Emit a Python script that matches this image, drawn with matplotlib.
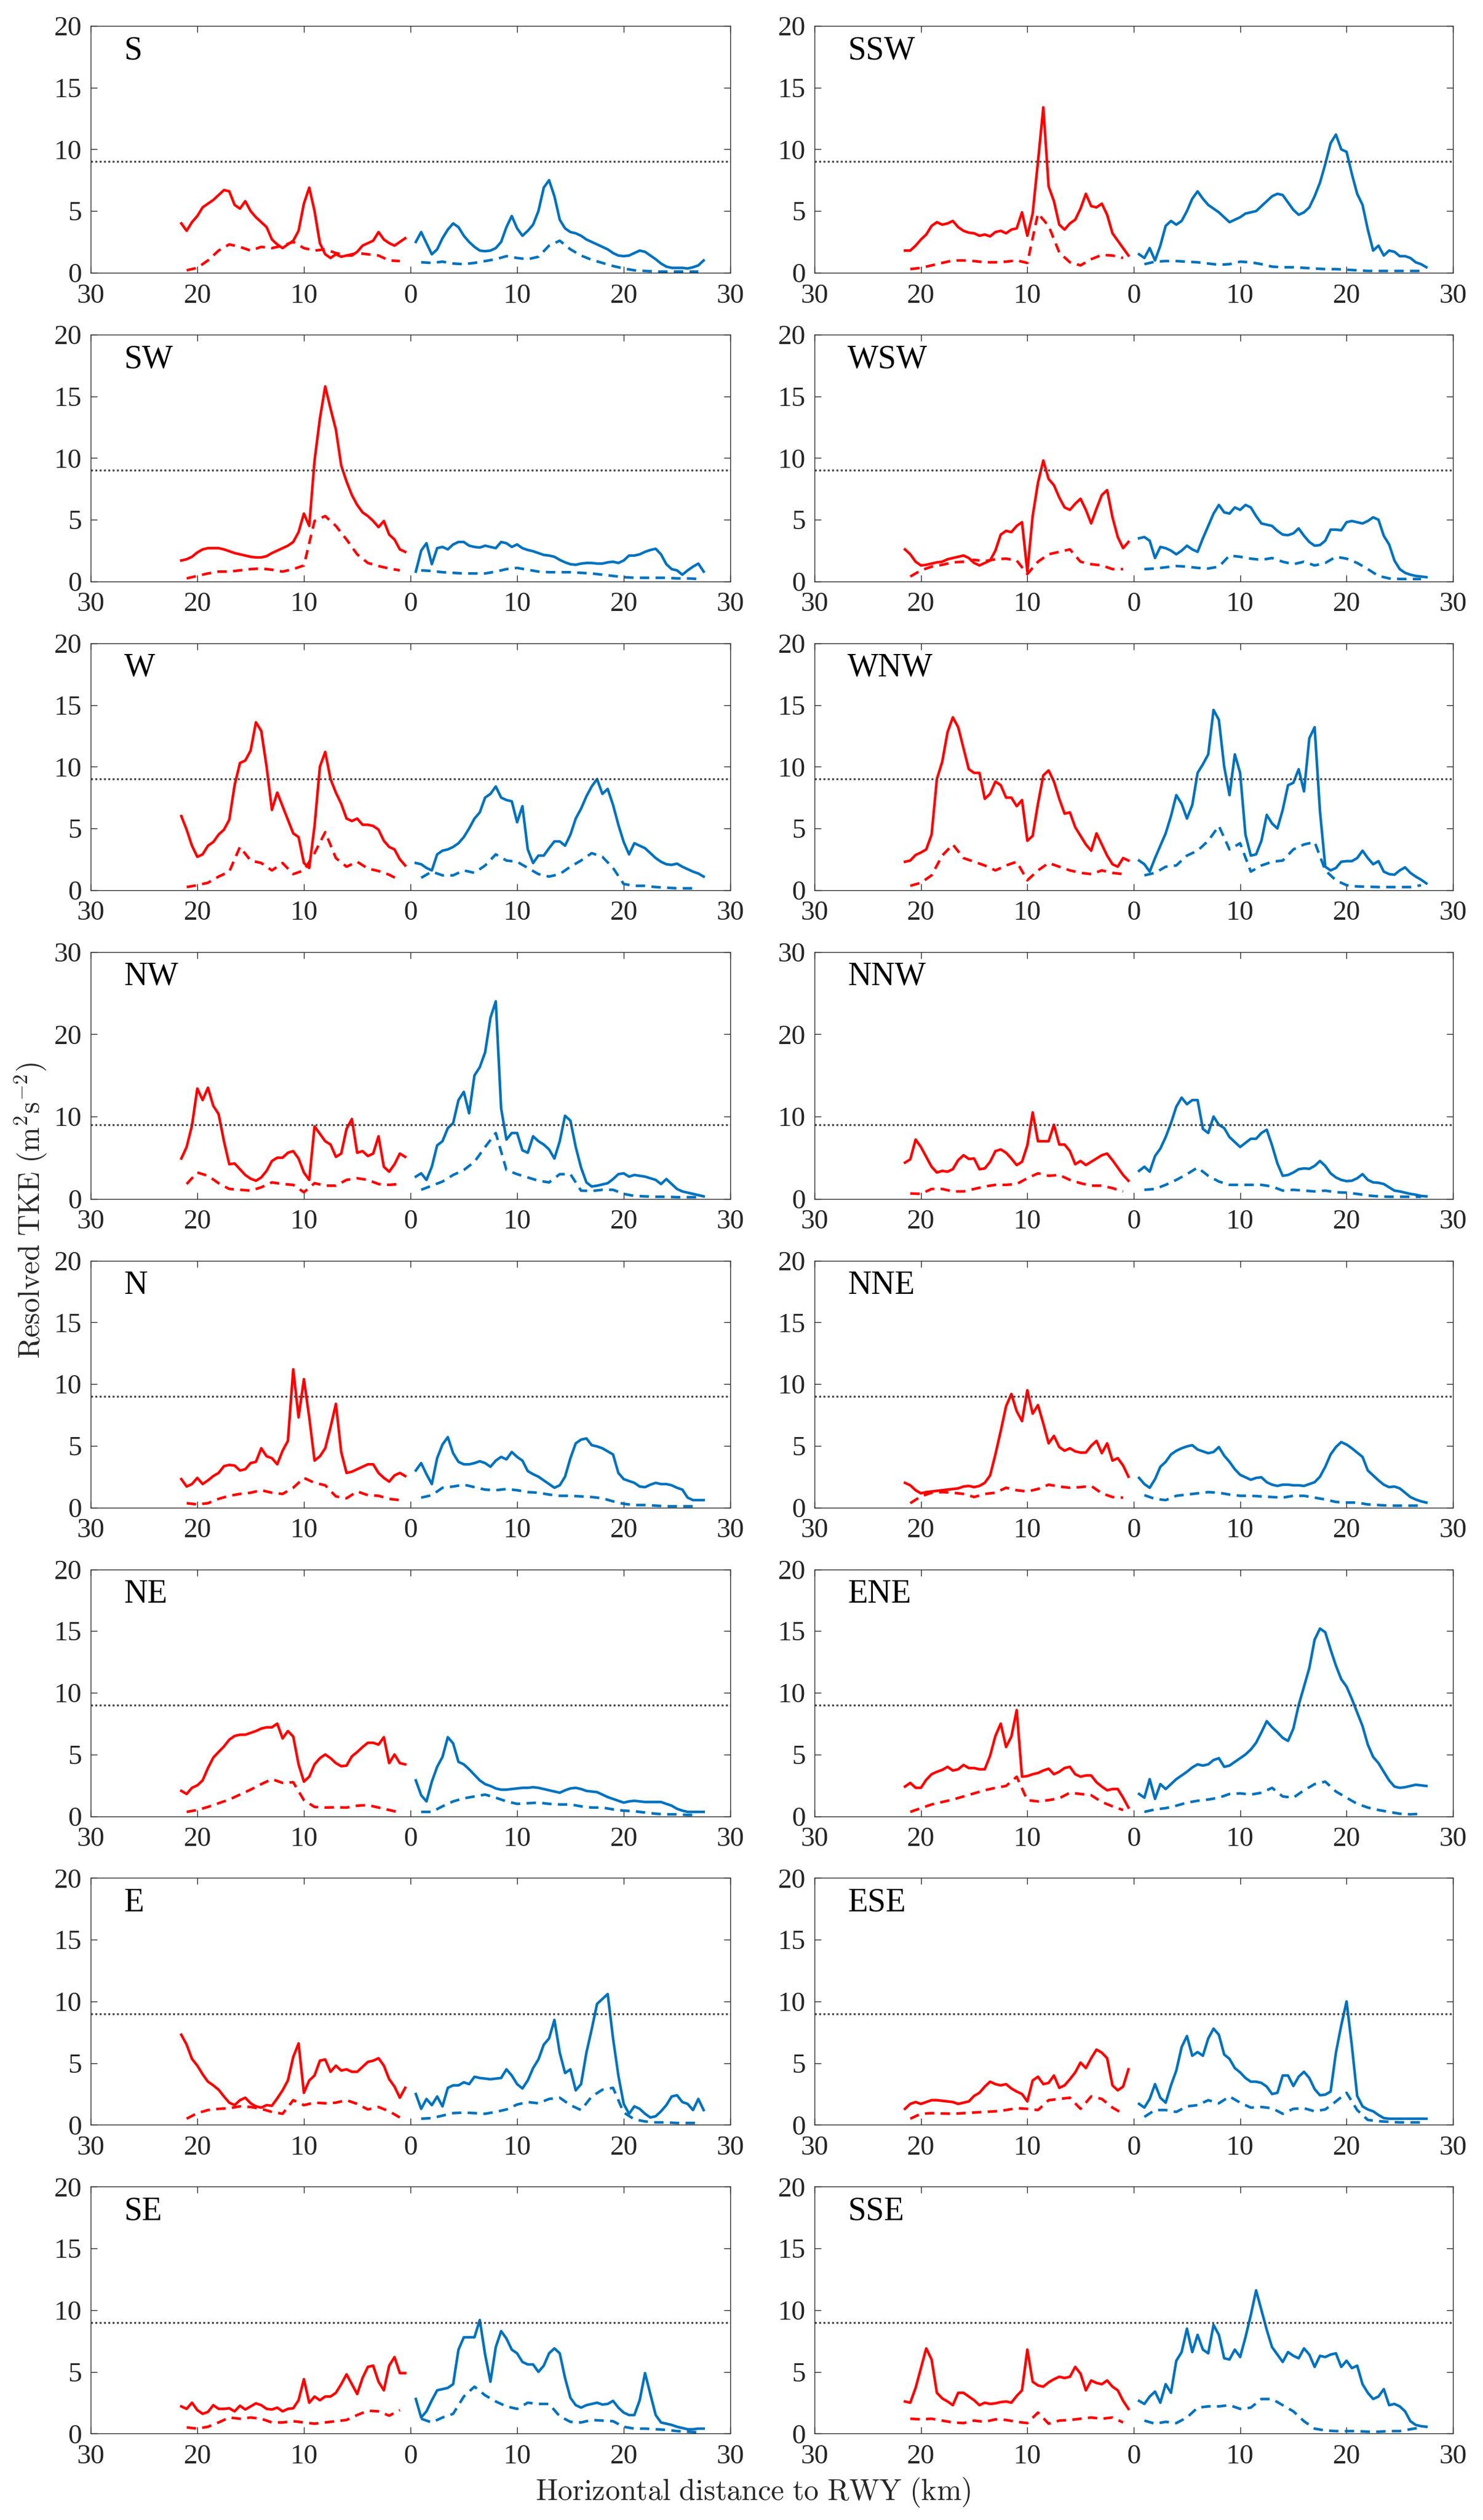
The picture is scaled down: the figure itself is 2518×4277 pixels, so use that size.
import numpy as np
import matplotlib
matplotlib.use('Agg')
import matplotlib.pyplot as plt

# sampling distances (km); red side is plotted at negative x
x_red = np.arange(-21.5, -0.25, 0.5)
x_blue = np.arange(0.5, 27.75, 0.5)
x_red_d = np.arange(-21, 0)
x_blue_d = np.arange(1, 28)

# ---- S ----
s_red = [4.0, 3.4, 4.1, 4.6, 5.3, 5.6, 5.9, 6.3, 6.7, 6.6, 5.5, 5.2, 5.8, 5.0, 4.5, 4.1, 3.7, 2.7, 2.3, 2.0, 2.3, 2.6, 3.4, 5.6, 6.9, 5.0, 2.4, 1.5, 1.2, 1.5, 1.3, 1.4, 1.4, 1.7, 2.2, 2.4, 2.6, 3.3, 2.7, 2.4, 2.2, 2.5, 2.8]
s_red_dash = [0.2, 0.4, 1.0, 1.8, 2.3, 2.1, 1.8, 2.1, 2.0, 2.2, 2.5, 2.0, 1.8, 1.9, 1.6, 1.4, 1.6, 1.5, 1.4, 1.0, 0.95]
s_blue = [2.5, 3.3, 2.4, 1.5, 1.9, 2.8, 3.5, 4.0, 3.7, 3.0, 2.5, 2.1, 1.8, 1.75, 1.8, 2.0, 2.5, 3.7, 4.6, 3.6, 3.0, 3.4, 3.9, 5.0, 6.9, 7.5, 6.2, 4.3, 3.6, 3.3, 3.2, 3.0, 2.7, 2.5, 2.3, 2.1, 1.9, 1.6, 1.4, 1.35, 1.4, 1.6, 1.8, 1.7, 1.4, 1.1, 0.75, 0.5, 0.4, 0.4, 0.4, 0.35, 0.45, 0.6, 1.0]
s_blue_dash = [0.85, 0.8, 0.9, 0.75, 0.7, 0.8, 0.95, 1.1, 1.35, 1.2, 1.1, 1.3, 2.2, 2.6, 1.9, 1.4, 1.05, 0.8, 0.55, 0.35, 0.2, 0.15, 0.1, 0.1, 0.1, 0.1, 0.1]

# ---- SSW ----
ssw_red = [1.8, 1.8, 2.2, 2.7, 3.1, 3.8, 4.1, 3.9, 4.0, 4.2, 3.7, 3.4, 3.25, 3.2, 3.0, 3.1, 2.95, 3.3, 3.4, 3.2, 3.5, 3.6, 4.9, 3.0, 4.8, 9.0, 13.4, 7.0, 5.8, 3.9, 3.5, 4.0, 4.3, 5.2, 6.4, 5.4, 5.3, 5.6, 4.7, 3.2, 2.6, 2.0, 1.4]
ssw_red_dash = [0.3, 0.4, 0.6, 0.8, 1.0, 1.0, 0.95, 0.85, 0.85, 0.9, 1.0, 0.8, 4.8, 3.8, 1.65, 0.85, 0.6, 1.1, 1.45, 1.4, 1.2]
ssw_blue = [1.5, 1.2, 2.0, 1.0, 2.2, 3.8, 4.2, 3.9, 4.2, 5.0, 6.0, 6.6, 6.0, 5.5, 5.2, 4.9, 4.5, 4.1, 4.3, 4.5, 4.8, 4.9, 5.0, 5.4, 5.8, 6.2, 6.4, 6.3, 5.7, 5.1, 4.7, 4.9, 5.3, 6.2, 7.3, 8.8, 10.5, 11.2, 10.0, 9.8, 8.0, 6.4, 5.5, 3.5, 1.8, 2.2, 1.4, 1.8, 1.7, 1.35, 1.35, 1.2, 0.85, 0.7, 0.45]
ssw_blue_dash = [0.7, 0.9, 0.95, 0.95, 0.9, 0.85, 0.75, 0.65, 0.7, 0.9, 0.85, 0.7, 0.5, 0.45, 0.45, 0.4, 0.35, 0.3, 0.3, 0.25, 0.2, 0.15, 0.15, 0.15, 0.15, 0.15, 0.15]

# ---- SW ----
sw_red = [1.7, 1.8, 2.0, 2.35, 2.6, 2.7, 2.7, 2.7, 2.6, 2.45, 2.3, 2.2, 2.1, 2.0, 1.95, 1.95, 2.05, 2.3, 2.5, 2.7, 2.9, 3.2, 4.0, 5.5, 4.5, 9.8, 13.2, 15.8, 14.0, 12.3, 9.4, 8.1, 7.0, 6.2, 5.6, 5.3, 4.9, 4.4, 4.9, 3.8, 3.4, 2.6, 2.4]
sw_red_dash = [0.25, 0.45, 0.65, 0.8, 0.8, 0.9, 1.0, 1.05, 0.95, 0.8, 1.0, 1.3, 4.9, 5.3, 4.5, 3.4, 2.2, 1.5, 1.25, 1.05, 0.9]
sw_blue = [0.8, 2.5, 3.1, 1.4, 2.7, 2.8, 2.6, 3.0, 3.2, 3.2, 2.9, 2.8, 2.75, 2.9, 2.8, 2.7, 3.2, 3.1, 2.8, 3.0, 2.7, 2.55, 2.45, 2.3, 2.15, 2.1, 2.0, 1.75, 1.55, 1.4, 1.35, 1.45, 1.5, 1.5, 1.45, 1.45, 1.55, 1.6, 1.5, 1.7, 2.1, 2.1, 2.2, 2.4, 2.55, 2.65, 2.2, 1.4, 1.0, 0.9, 0.55, 0.9, 1.2, 1.45, 0.8]
sw_blue_dash = [0.9, 0.85, 0.75, 0.7, 0.65, 0.65, 0.65, 0.8, 1.0, 1.1, 0.95, 0.8, 0.75, 0.75, 0.75, 0.7, 0.65, 0.55, 0.45, 0.35, 0.3, 0.3, 0.3, 0.3, 0.25, 0.25, 0.2]

# ---- WSW ----
wsw_red = [2.6, 2.2, 1.6, 1.3, 1.35, 1.45, 1.55, 1.6, 1.8, 1.9, 2.0, 2.1, 1.9, 1.5, 1.3, 1.5, 1.7, 2.5, 3.8, 4.1, 4.0, 4.5, 4.8, 0.8, 5.3, 8.0, 9.8, 8.3, 7.8, 6.8, 6.0, 5.8, 6.3, 6.7, 5.8, 4.7, 5.9, 7.0, 7.4, 5.2, 3.6, 2.7, 3.2]
wsw_red_dash = [0.4, 0.9, 1.2, 1.35, 1.55, 1.6, 1.75, 1.65, 1.8, 1.85, 1.7, 0.6, 1.6, 2.2, 2.4, 2.6, 1.6, 1.4, 1.3, 1.0, 1.0]
wsw_blue = [3.5, 3.6, 3.3, 1.9, 2.8, 2.7, 2.5, 2.2, 2.5, 2.9, 2.6, 2.4, 3.5, 4.5, 5.5, 6.2, 5.6, 5.5, 6.0, 5.8, 6.2, 6.0, 5.3, 4.7, 4.6, 4.5, 4.1, 3.8, 3.75, 3.9, 4.3, 3.7, 3.2, 2.9, 2.95, 3.3, 4.2, 4.2, 4.15, 4.8, 4.9, 4.8, 4.7, 4.9, 5.2, 5.0, 3.7, 3.0, 1.7, 1.0, 0.7, 0.55, 0.45, 0.4, 0.35]
wsw_blue_dash = [1.0, 1.05, 1.15, 1.25, 1.2, 1.1, 1.05, 1.2, 2.1, 2.0, 1.85, 1.75, 1.9, 1.6, 1.4, 1.6, 1.3, 1.5, 2.0, 1.85, 1.5, 1.0, 0.45, 0.25, 0.2, 0.2, 0.2]

# ---- W ----
w_red = [6.0, 4.9, 3.6, 2.7, 2.9, 3.6, 3.9, 4.5, 4.9, 5.7, 8.5, 10.3, 10.5, 11.3, 13.6, 12.9, 10.0, 6.5, 7.9, 6.8, 5.7, 4.6, 4.3, 2.2, 1.8, 5.2, 10.0, 11.2, 9.0, 7.9, 7.0, 5.8, 5.6, 5.8, 5.3, 5.3, 5.2, 4.9, 4.0, 3.5, 3.3, 2.5, 2.0]
w_red_dash = [0.25, 0.4, 0.6, 1.1, 1.5, 3.5, 2.4, 2.2, 1.6, 2.2, 1.3, 1.6, 3.0, 4.7, 2.6, 1.9, 2.3, 1.75, 1.55, 1.25, 0.8]
w_blue = [2.2, 2.1, 1.8, 1.6, 2.9, 3.2, 3.3, 3.5, 3.8, 4.3, 5.0, 5.8, 6.3, 7.5, 7.8, 8.4, 7.5, 7.3, 7.2, 5.5, 6.8, 3.3, 2.2, 2.8, 2.8, 3.4, 3.95, 3.95, 3.6, 4.5, 5.8, 6.6, 7.6, 8.4, 9.0, 7.8, 8.2, 6.9, 5.3, 3.9, 2.9, 3.8, 3.6, 3.4, 3.0, 2.6, 2.3, 2.1, 2.05, 2.15, 1.9, 1.7, 1.5, 1.35, 1.1]
w_blue_dash = [1.0, 1.5, 1.2, 1.2, 1.6, 1.4, 2.0, 2.9, 2.4, 2.3, 1.8, 1.3, 1.1, 1.3, 1.9, 2.4, 3.0, 2.7, 1.8, 0.5, 0.35, 0.35, 0.25, 0.2, 0.15, 0.15, 0.15]

# ---- WNW ----
wnw_red = [2.3, 2.4, 2.85, 3.05, 3.3, 4.5, 9.0, 10.4, 12.8, 14.0, 13.2, 11.5, 9.8, 9.5, 9.5, 7.4, 7.8, 8.8, 8.5, 7.5, 7.5, 6.8, 7.3, 4.0, 4.4, 7.0, 9.3, 9.7, 8.8, 7.4, 6.2, 6.3, 5.1, 4.4, 3.7, 3.2, 4.6, 3.7, 2.8, 2.1, 1.9, 2.6, 2.4]
wnw_red_dash = [0.35, 0.6, 1.2, 2.8, 3.7, 2.6, 2.3, 2.0, 1.6, 2.0, 2.3, 0.8, 1.6, 2.2, 1.9, 1.6, 1.4, 1.3, 1.6, 1.4, 1.3]
wnw_blue = [2.4, 2.1, 1.5, 2.6, 3.6, 4.6, 6.0, 7.7, 7.0, 5.8, 6.9, 9.5, 10.2, 11.0, 14.6, 13.8, 10.0, 7.7, 11.0, 9.5, 4.5, 2.8, 2.9, 4.0, 6.1, 5.4, 5.0, 6.5, 8.5, 8.7, 9.8, 8.0, 12.3, 13.2, 6.4, 1.9, 1.6, 1.8, 2.3, 2.35, 2.35, 2.6, 3.2, 2.6, 2.1, 2.35, 1.5, 1.3, 1.25, 1.6, 1.85, 1.4, 1.1, 0.85, 0.55]
wnw_blue_dash = [1.2, 1.4, 1.9, 2.0, 2.8, 3.2, 4.0, 5.2, 3.3, 3.8, 1.5, 2.0, 2.3, 2.4, 3.3, 3.7, 3.9, 1.6, 0.8, 0.4, 0.3, 0.28, 0.25, 0.25, 0.25, 0.25, 0.4]

# ---- NW ----
nw_red = [4.9, 6.3, 8.9, 13.4, 12.0, 13.5, 11.3, 10.3, 7.0, 4.2, 4.3, 3.6, 2.9, 2.45, 2.2, 2.6, 3.4, 4.6, 5.0, 5.0, 5.6, 5.8, 4.9, 3.2, 2.3, 8.8, 7.9, 7.0, 6.6, 5.1, 5.5, 8.5, 9.7, 5.6, 5.8, 5.2, 5.5, 7.6, 3.9, 3.3, 4.2, 5.5, 5.1]
nw_red_dash = [1.8, 3.2, 2.8, 1.9, 1.2, 1.1, 1.0, 1.4, 2.0, 1.8, 1.7, 0.8, 1.9, 1.6, 1.6, 2.3, 2.5, 2.3, 1.8, 1.7, 1.8]
nw_blue = [2.7, 3.1, 2.3, 3.9, 6.5, 7.0, 8.6, 9.2, 12.0, 13.0, 10.4, 15.0, 16.0, 17.8, 22.0, 24.0, 11.0, 7.2, 8.0, 8.0, 5.9, 5.6, 7.6, 7.0, 6.6, 6.0, 4.9, 7.0, 10.1, 9.5, 6.3, 3.8, 2.0, 1.5, 1.6, 1.75, 1.9, 2.4, 3.0, 3.1, 2.7, 2.9, 2.8, 2.7, 2.5, 2.3, 1.8, 2.4, 1.8, 1.2, 0.9, 0.75, 0.6, 0.45, 0.3]
nw_blue_dash = [1.1, 1.6, 2.1, 2.9, 3.5, 4.5, 6.3, 8.0, 3.5, 3.0, 2.6, 2.2, 2.0, 3.0, 3.0, 1.0, 0.95, 1.1, 1.1, 0.6, 0.35, 0.3, 0.25, 0.25, 0.2, 0.2, 0.2]

# ---- NNW ----
nnw_red = [4.4, 4.8, 7.2, 6.3, 5.1, 3.9, 3.2, 3.4, 3.3, 3.6, 4.7, 5.3, 4.85, 4.9, 3.6, 3.7, 4.5, 5.8, 6.0, 5.6, 4.9, 4.1, 4.5, 6.5, 10.5, 7.0, 7.0, 7.0, 9.0, 6.6, 6.6, 5.8, 4.2, 4.6, 4.1, 4.5, 4.9, 5.3, 5.5, 4.7, 3.8, 2.9, 2.2]
nnw_red_dash = [0.65, 0.6, 1.2, 1.2, 0.9, 0.9, 1.2, 1.5, 1.7, 1.7, 1.8, 2.5, 3.1, 2.8, 2.9, 2.3, 1.9, 1.6, 1.6, 1.3, 0.9]
nnw_blue = [3.4, 3.9, 3.3, 5.2, 6.1, 7.5, 9.2, 11.2, 12.3, 11.5, 12.0, 12.0, 8.5, 8.0, 10.0, 9.0, 8.6, 7.5, 6.9, 6.3, 6.8, 7.3, 7.3, 8.0, 8.4, 6.5, 4.3, 2.8, 2.9, 3.2, 3.6, 3.7, 3.65, 4.0, 4.6, 4.0, 3.1, 2.6, 2.3, 2.15, 2.2, 2.5, 3.0, 2.3, 2.0, 1.95, 1.8, 1.4, 1.0, 0.9, 0.75, 0.6, 0.5, 0.35, 0.3]
nnw_blue_dash = [1.1, 1.2, 1.7, 2.3, 3.0, 3.8, 2.8, 2.1, 1.7, 1.7, 1.7, 1.7, 1.5, 1.0, 1.1, 1.0, 0.9, 1.0, 0.8, 0.75, 0.6, 0.4, 0.3, 0.25, 0.25, 0.25, 0.25]

# ---- N ----
n_red = [2.3, 1.7, 1.9, 2.4, 1.9, 2.2, 2.55, 2.8, 3.35, 3.45, 3.4, 3.0, 3.1, 3.6, 3.7, 4.8, 4.15, 4.0, 3.5, 4.6, 5.4, 11.2, 7.3, 10.4, 7.3, 3.8, 4.15, 4.8, 6.5, 8.4, 4.5, 2.8, 2.9, 3.1, 3.3, 3.5, 3.5, 2.8, 2.4, 2.1, 2.6, 2.8, 2.55]
n_red_dash = [0.35, 0.25, 0.35, 0.7, 0.95, 1.1, 1.2, 1.4, 1.2, 1.1, 1.6, 2.4, 2.0, 1.8, 0.9, 0.75, 1.3, 1.0, 0.95, 0.7, 0.6]
n_blue = [3.0, 3.6, 2.7, 1.9, 4.0, 5.1, 5.7, 4.4, 3.7, 3.5, 3.5, 3.6, 3.75, 3.6, 3.3, 3.8, 4.1, 3.9, 4.5, 4.1, 3.8, 2.95, 2.7, 2.5, 2.2, 1.9, 1.6, 1.8, 2.5, 4.0, 5.2, 5.5, 5.6, 5.05, 4.95, 4.8, 4.55, 4.3, 2.8, 2.3, 2.15, 2.0, 1.7, 1.65, 1.85, 2.0, 1.9, 1.9, 1.8, 1.6, 1.45, 0.8, 0.6, 0.6, 0.6]
n_blue_dash = [0.8, 1.0, 1.6, 1.7, 1.85, 1.65, 1.45, 1.4, 1.5, 1.4, 1.25, 1.2, 1.05, 0.95, 0.95, 0.9, 0.85, 0.75, 0.5, 0.3, 0.2, 0.2, 0.15, 0.1, 0.1, 0.1, 0.1]

# ---- NNE ----
nne_red = [2.0, 1.8, 1.4, 1.15, 1.25, 1.3, 1.35, 1.4, 1.45, 1.5, 1.55, 1.7, 1.75, 1.65, 1.75, 2.0, 2.6, 4.3, 6.2, 8.2, 9.2, 7.8, 7.0, 9.5, 7.6, 8.3, 6.8, 5.2, 5.8, 4.9, 4.6, 4.8, 4.55, 4.45, 4.45, 5.0, 5.4, 4.4, 5.2, 3.8, 4.0, 3.4, 2.5]
nne_red_dash = [0.35, 0.9, 1.2, 1.25, 1.2, 1.1, 0.85, 1.1, 1.2, 1.6, 1.4, 1.3, 1.5, 1.85, 1.7, 1.6, 1.65, 1.75, 1.15, 0.85, 0.8]
nne_blue = [2.4, 1.9, 1.6, 2.3, 3.3, 3.7, 4.3, 4.6, 4.8, 4.95, 5.05, 4.7, 4.55, 4.4, 4.5, 4.9, 4.2, 3.7, 3.1, 2.65, 2.45, 2.25, 2.4, 2.45, 2.05, 1.85, 1.75, 1.85, 1.85, 1.8, 1.8, 1.75, 1.9, 2.05, 2.5, 3.3, 4.3, 4.9, 5.3, 5.1, 4.8, 4.45, 4.1, 3.0, 2.6, 2.2, 1.85, 1.65, 1.7, 1.55, 1.2, 0.85, 0.65, 0.5, 0.4]
nne_blue_dash = [1.0, 0.7, 0.6, 0.95, 1.05, 1.15, 1.25, 1.2, 1.05, 0.95, 0.95, 0.9, 0.85, 0.8, 0.95, 0.95, 0.8, 0.65, 0.45, 0.4, 0.4, 0.25, 0.2, 0.15, 0.15, 0.15, 0.15]

# ---- NE ----
ne_red = [2.05, 1.8, 2.3, 2.5, 2.9, 3.9, 4.75, 5.2, 5.65, 6.2, 6.5, 6.6, 6.6, 6.75, 6.9, 7.1, 7.2, 7.2, 7.5, 6.3, 6.9, 6.45, 4.2, 2.8, 3.2, 4.2, 4.7, 5.0, 4.7, 4.3, 4.05, 4.1, 4.85, 5.2, 5.6, 5.95, 5.95, 5.8, 6.4, 4.3, 5.0, 4.3, 4.2]
ne_red_dash = [0.35, 0.5, 0.75, 1.05, 1.35, 1.75, 2.15, 2.6, 3.0, 2.7, 2.75, 1.3, 0.75, 0.7, 0.72, 0.7, 0.85, 0.9, 0.7, 0.5, 0.3]
ne_blue = [2.9, 1.7, 1.2, 2.8, 4.0, 4.8, 6.4, 5.9, 4.4, 4.2, 3.8, 3.35, 2.9, 2.6, 2.45, 2.25, 2.15, 2.15, 2.2, 2.25, 2.3, 2.3, 2.35, 2.3, 2.2, 2.1, 2.0, 1.9, 2.1, 2.25, 2.3, 2.2, 2.05, 2.0, 1.95, 1.75, 1.55, 1.4, 1.25, 1.1, 1.2, 1.25, 1.2, 1.15, 1.15, 1.15, 1.15, 1.0, 0.85, 0.6, 0.45, 0.35, 0.35, 0.35, 0.35]
ne_blue_dash = [0.35, 0.35, 0.8, 1.2, 1.45, 1.6, 1.75, 1.5, 1.2, 1.0, 1.05, 1.1, 1.0, 0.95, 0.95, 0.8, 0.7, 0.7, 0.55, 0.45, 0.4, 0.3, 0.2, 0.15, 0.15, 0.1, 0.1]

# ---- ENE ----
ene_red = [2.4, 2.7, 2.3, 2.3, 2.95, 3.4, 3.6, 3.75, 4.0, 3.7, 3.8, 4.15, 3.9, 3.9, 3.8, 3.8, 4.9, 6.5, 7.5, 5.6, 6.45, 8.6, 3.2, 3.25, 3.4, 3.5, 3.7, 3.85, 3.4, 3.6, 3.9, 4.0, 3.4, 3.2, 3.3, 3.3, 2.75, 2.4, 2.1, 2.2, 2.2, 1.5, 0.7]
ene_red_dash = [0.35, 0.65, 0.95, 1.15, 1.35, 1.6, 1.85, 2.1, 2.3, 2.45, 3.2, 1.3, 1.2, 1.3, 1.45, 1.9, 1.8, 1.7, 1.15, 0.8, 0.5]
ene_blue = [1.8, 1.5, 3.0, 1.4, 2.6, 2.2, 2.6, 3.0, 3.3, 3.6, 3.95, 4.2, 4.1, 4.2, 4.55, 4.7, 4.0, 4.1, 4.4, 4.7, 5.0, 5.4, 5.95, 6.8, 7.7, 7.2, 6.8, 6.35, 6.1, 7.1, 9.0, 10.5, 12.0, 14.3, 15.2, 14.9, 13.5, 12.2, 11.1, 10.5, 9.5, 8.4, 7.3, 5.8, 4.8, 4.3, 3.6, 2.9, 2.4, 2.3, 2.35, 2.45, 2.55, 2.5, 2.45]
ene_blue_dash = [0.35, 0.55, 0.65, 0.85, 1.1, 1.25, 1.35, 1.5, 1.8, 1.85, 1.75, 1.9, 2.3, 1.6, 1.5, 2.1, 2.6, 2.8, 2.0, 1.5, 1.0, 0.7, 0.5, 0.35, 0.2, 0.15, 0.2]

# ---- E ----
e_red = [7.3, 6.5, 5.35, 4.8, 4.1, 3.5, 3.2, 2.85, 2.3, 1.8, 1.6, 2.0, 2.2, 1.75, 1.5, 1.4, 1.6, 1.55, 2.15, 2.8, 3.6, 5.5, 6.6, 2.6, 3.6, 4.0, 5.2, 5.3, 4.3, 4.8, 4.4, 4.5, 4.3, 4.3, 4.7, 5.1, 5.2, 5.4, 4.8, 3.7, 3.1, 2.2, 3.0]
e_red_dash = [0.5, 0.95, 1.2, 1.3, 1.35, 1.5, 1.45, 1.3, 1.05, 0.9, 2.0, 1.6, 1.8, 1.75, 1.8, 2.0, 1.7, 1.25, 1.45, 1.1, 0.6]
e_blue = [2.5, 1.3, 2.1, 1.6, 2.3, 1.5, 3.0, 3.2, 3.2, 3.45, 3.3, 3.9, 3.8, 3.75, 3.7, 3.75, 3.8, 4.5, 4.0, 3.3, 2.95, 3.6, 4.6, 5.3, 6.5, 7.0, 8.5, 5.85, 4.2, 4.5, 2.8, 3.3, 5.85, 7.75, 9.8, 10.2, 10.6, 7.0, 4.0, 1.7, 0.9, 1.5, 1.3, 0.9, 0.6, 0.7, 1.1, 1.6, 2.3, 2.4, 1.85, 1.7, 1.2, 2.1, 1.2]
e_blue_dash = [0.5, 0.55, 0.75, 0.95, 1.0, 0.95, 0.9, 1.05, 1.25, 1.65, 1.85, 1.75, 2.1, 2.2, 1.6, 1.2, 2.3, 2.85, 3.0, 1.0, 0.45, 0.28, 0.2, 0.2, 0.15, 0.15, 0.15]

# ---- ESE ----
ese_red = [1.3, 1.7, 1.85, 1.7, 1.85, 2.0, 2.0, 1.95, 1.9, 1.85, 1.7, 1.8, 1.9, 2.35, 2.6, 3.1, 3.5, 3.3, 3.2, 3.3, 2.95, 2.7, 2.5, 1.9, 3.6, 3.9, 3.3, 3.4, 4.0, 3.0, 3.2, 3.7, 4.25, 5.05, 4.6, 5.4, 6.1, 5.85, 5.4, 3.2, 2.8, 3.1, 4.5]
ese_red_dash = [0.5, 0.9, 0.95, 0.92, 0.9, 0.95, 1.0, 1.05, 1.1, 1.2, 1.35, 1.3, 1.2, 2.0, 2.1, 2.2, 1.3, 2.3, 2.1, 1.4, 0.9]
ese_blue = [1.7, 1.4, 2.1, 3.3, 2.2, 1.8, 3.2, 4.4, 6.3, 7.2, 5.6, 5.9, 5.6, 7.0, 7.8, 7.3, 5.7, 5.35, 4.6, 4.25, 3.8, 3.5, 3.5, 3.4, 3.1, 2.5, 2.6, 4.0, 4.0, 3.15, 3.9, 4.3, 3.8, 2.9, 2.4, 2.45, 2.7, 5.85, 8.05, 10.0, 6.4, 2.35, 1.5, 1.25, 1.1, 0.8, 0.55, 0.5, 0.5, 0.5, 0.5, 0.5, 0.5, 0.5, 0.5]
ese_blue_dash = [0.65, 1.2, 1.2, 1.05, 1.5, 1.6, 2.0, 1.75, 2.3, 1.8, 1.4, 1.45, 1.35, 0.9, 1.3, 1.35, 1.1, 1.25, 1.9, 2.6, 1.2, 0.4, 0.3, 0.25, 0.2, 0.2, 0.2]

# ---- SE ----
se_red = [2.2, 2.0, 2.5, 1.9, 1.6, 1.75, 2.3, 2.0, 2.0, 2.05, 1.8, 2.25, 1.95, 2.2, 2.45, 2.3, 2.0, 1.95, 2.1, 1.8, 2.0, 2.05, 2.7, 4.4, 2.5, 3.0, 2.7, 3.0, 3.0, 3.3, 4.0, 4.8, 4.0, 3.2, 4.5, 5.4, 5.5, 4.2, 3.5, 5.5, 6.2, 4.9, 4.9]
se_red_dash = [0.5, 0.4, 0.55, 0.9, 1.3, 1.2, 1.3, 1.2, 0.9, 0.9, 1.0, 0.9, 0.8, 0.9, 1.0, 1.1, 1.5, 1.85, 1.8, 1.45, 1.9]
se_blue = [2.8, 1.3, 1.8, 2.7, 3.5, 3.6, 3.7, 4.0, 6.8, 7.8, 7.8, 7.8, 9.2, 6.4, 4.2, 7.0, 8.3, 7.7, 6.8, 6.5, 5.8, 5.6, 5.6, 5.0, 5.5, 6.5, 6.9, 6.5, 4.5, 2.9, 2.3, 2.1, 2.3, 2.4, 2.5, 2.35, 2.4, 2.65, 2.1, 1.7, 1.5, 1.5, 2.7, 4.9, 3.2, 1.5, 0.9, 0.8, 0.7, 0.55, 0.45, 0.35, 0.35, 0.4, 0.4]
se_blue_dash = [1.2, 0.9, 1.3, 1.6, 3.0, 3.8, 3.1, 2.6, 2.2, 2.0, 2.5, 2.4, 2.4, 1.4, 0.95, 0.9, 1.1, 1.05, 1.0, 0.55, 0.4, 0.4, 0.35, 0.3, 0.2, 0.15, 0.1]

# ---- SSE ----
sse_red = [2.6, 2.5, 3.7, 5.3, 6.9, 6.0, 3.3, 2.85, 2.6, 2.3, 3.3, 3.3, 3.0, 2.7, 2.3, 2.5, 2.4, 2.45, 2.55, 2.6, 2.5, 3.05, 3.5, 6.8, 4.2, 3.9, 3.8, 4.15, 4.4, 4.6, 4.5, 4.6, 5.4, 4.85, 3.5, 4.3, 4.1, 4.0, 4.3, 3.8, 3.5, 2.65, 2.0]
sse_red_dash = [1.2, 1.15, 1.2, 1.05, 0.9, 0.85, 1.05, 0.95, 1.15, 1.1, 0.95, 0.85, 1.7, 0.8, 1.05, 1.1, 1.2, 1.3, 1.2, 1.3, 0.9]
sse_blue = [2.65, 2.4, 3.0, 3.4, 2.5, 4.0, 3.3, 5.9, 6.6, 8.5, 6.6, 8.0, 6.8, 6.5, 8.8, 8.0, 6.1, 6.0, 6.8, 6.2, 7.8, 9.6, 11.6, 10.0, 8.4, 7.0, 6.4, 5.8, 6.6, 6.3, 6.1, 6.9, 6.4, 5.4, 6.3, 6.2, 6.4, 6.5, 5.4, 5.9, 5.3, 5.5, 4.0, 3.3, 2.8, 3.0, 3.6, 2.3, 2.4, 2.2, 1.8, 1.0, 0.7, 0.6, 0.55]
sse_blue_dash = [1.05, 0.8, 0.95, 0.85, 1.3, 2.1, 2.2, 2.2, 2.3, 2.0, 2.1, 2.8, 2.8, 2.3, 1.8, 1.0, 0.4, 0.25, 0.2, 0.2, 0.2, 0.15, 0.15, 0.2, 0.2, 0.35, 0.5]

panels = [
    ('S', s_red, s_red_dash, s_blue, s_blue_dash),
    ('SSW', ssw_red, ssw_red_dash, ssw_blue, ssw_blue_dash),
    ('SW', sw_red, sw_red_dash, sw_blue, sw_blue_dash),
    ('WSW', wsw_red, wsw_red_dash, wsw_blue, wsw_blue_dash),
    ('W', w_red, w_red_dash, w_blue, w_blue_dash),
    ('WNW', wnw_red, wnw_red_dash, wnw_blue, wnw_blue_dash),
    ('NW', nw_red, nw_red_dash, nw_blue, nw_blue_dash),
    ('NNW', nnw_red, nnw_red_dash, nnw_blue, nnw_blue_dash),
    ('N', n_red, n_red_dash, n_blue, n_blue_dash),
    ('NNE', nne_red, nne_red_dash, nne_blue, nne_blue_dash),
    ('NE', ne_red, ne_red_dash, ne_blue, ne_blue_dash),
    ('ENE', ene_red, ene_red_dash, ene_blue, ene_blue_dash),
    ('E', e_red, e_red_dash, e_blue, e_blue_dash),
    ('ESE', ese_red, ese_red_dash, ese_blue, ese_blue_dash),
    ('SE', se_red, se_red_dash, se_blue, se_blue_dash),
    ('SSE', sse_red, sse_red_dash, sse_blue, sse_blue_dash),
]

THRESHOLD = 9
RED = '#FF0000'
BLUE = '#0072BD'
AX_COL = '0.15'

# ticks and panel names in a Times-like face; axis labels in Computer Modern (mathtext)
plt.rcParams['font.family'] = ['Liberation Serif', 'DejaVu Serif']
plt.rcParams['mathtext.fontset'] = 'cm'

fig = plt.figure(figsize=(12.59, 21.385), dpi=200)

W_PX, H_PX = 2518, 4277
col_left = [154, 1383]
col_width = [1086, 1084]
row_top0, row_step, row_h = 44, 523.9, 419

for i, (name, r, rd, b, bd) in enumerate(panels):
    row, col = divmod(i, 2)
    top = row_top0 + row * row_step
    ax = fig.add_axes([col_left[col] / W_PX, 1 - (top + row_h) / H_PX,
                       col_width[col] / W_PX, row_h / H_PX])

    ax.plot(x_red, r, color=RED, lw=1.6)
    ax.plot(x_red_d, rd, color=RED, lw=1.6, ls=(0, (3.6, 2.4)))
    ax.plot(x_blue, b, color=BLUE, lw=1.6)
    ax.plot(x_blue_d, bd, color=BLUE, lw=1.6, ls=(0, (3.6, 2.4)))
    ax.axhline(THRESHOLD, color='0.28', lw=1.2, ls=(0, (1, 1.2)))

    ymax = 30 if name in ('NW', 'NNW') else 20
    ax.set_ylim(0, ymax)
    ax.set_xlim(-30, 30)
    yt = np.arange(0, ymax + 1, 10 if ymax == 30 else 5)
    ax.set_yticks(yt)
    ax.set_yticklabels([str(t) for t in yt])
    xt = np.arange(-30, 31, 10)
    ax.set_xticks(xt)
    ax.set_xticklabels([str(abs(t)) for t in xt])

    ax.tick_params(direction='in', top=True, right=True, length=4, width=0.5,
                   labelsize=17, colors=AX_COL)
    ax.tick_params(axis='x', pad=6.5)
    ax.tick_params(axis='y', pad=5.5)
    for sp in ax.spines.values():
        sp.set_linewidth(0.5)
        sp.set_color(AX_COL)

    ax.text(0.052, 0.866, name, transform=ax.transAxes,
            fontsize=20, va='baseline', ha='left')

fig.text(0.508, 0.011, r'$\mathrm{Horizontal\ distance\ to\ RWY\ (km)}$',
         ha='center', va='center', fontsize=18, color=AX_COL)
fig.text(0.0207, 0.5195, r'$\mathrm{Resolved\ TKE\ (m^2s^{-2})}$', rotation=90,
         ha='center', va='center', fontsize=18, color=AX_COL)

fig.savefig('out.png', dpi=200)
